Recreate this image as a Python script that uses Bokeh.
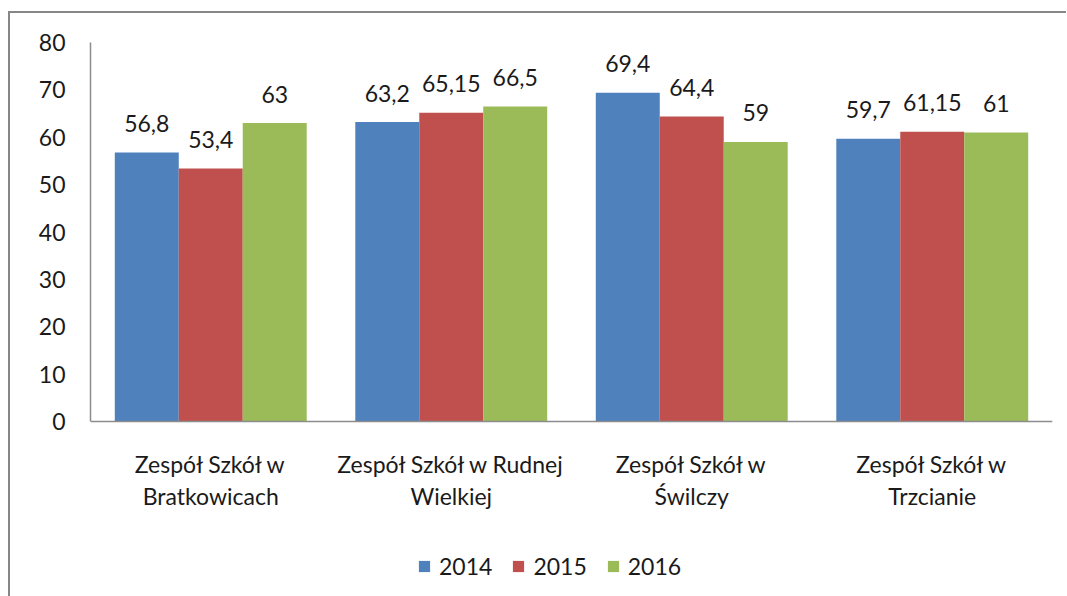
from bokeh.plotting import figure
from bokeh.models import ColumnDataSource, FactorRange, Legend, LegendItem, FixedTicker
from bokeh.transform import dodge
from bokeh.embed import file_html
from bokeh.resources import INLINE
from bokeh.core.properties import value

schools = ["Zespół Szkół w\nBratkowicach", "Zespół Szkół w Rudnej\nWielkiej",
           "Zespół Szkół w\nŚwilczy", "Zespół Szkół w\nTrzcianie"]
years = ["2014", "2015", "2016"]
v2014 = [56.8, 63.2, 69.4, 59.7]
v2015 = [53.4, 65.15, 64.4, 61.15]
v2016 = [63, 66.5, 59, 61]
colors = ["#4F81BD", "#C0504D", "#9BBB59"]
y_ticks = [0, 10, 20, 30, 40, 50, 60, 70, 80]

FONT = "Lato"
FS = "23px"

# frame: 0..80 occupies 379 px; extra 190 px below zero hold the category labels and legend
PX_PER_UNIT = 379 / 80
Y_MIN = -190 / PX_PER_UNIT


def fmt(v):
    return f"{v:g}".replace(".", ",")


data = {"school": schools}
for y, vals in zip(years, [v2014, v2015, v2016]):
    data["v" + y] = vals
    data["l" + y] = [fmt(v) for v in vals]
src = ColumnDataSource(data)

p = figure(x_range=FactorRange(*schools), y_range=(Y_MIN, 80),
           frame_width=962, frame_height=569, output_backend="svg", toolbar_location=None,
           min_border_left=80, min_border_right=14, min_border_top=29, min_border_bottom=0)
p.styles = {"margin-top": "11px", "margin-left": "8px",
            "border-left": "2px solid #878787", "border-top": "2px solid #878787"}
p.outline_line_color = None
p.xgrid.grid_line_color = None
p.ygrid.grid_line_color = None
p.background_fill_color = "white"
p.border_fill_color = "white"

bw = 0.266
offsets = [-bw, 0, bw]
items = []
for y, c, off in zip(years, colors, offsets):
    r = p.vbar(x=dodge("school", off, range=p.x_range), top="v" + y, bottom=0, width=bw,
               source=src, fill_color=c, line_color=None)
    p.text(x=dodge("school", off, range=p.x_range), y="v" + y, text="l" + y, source=src,
           text_align="center", text_baseline="alphabetic", y_offset=-29,
           text_font=value(FONT), text_font_size=FS, text_color="#1a1a1a")
    items.append(LegendItem(label=y, renderers=[r]))

legend = Legend(items=items, orientation="horizontal", location=(327, 31),
                glyph_width=14, glyph_height=14, label_standoff=8, spacing=19,
                padding=0, margin=0, border_line_color=None, background_fill_alpha=0,
                label_text_font=FONT, label_text_font_size=FS, label_text_color="#1a1a1a")
p.add_layout(legend, "center")

p.yaxis.ticker = FixedTicker(ticks=y_ticks)
p.yaxis.bounds = (0, 80)
p.xaxis.fixed_location = 0
for ax in (p.xaxis, p.yaxis):
    ax.axis_line_color = "#8c8c8c"
    ax.axis_line_width = 1.5
    ax.major_tick_line_color = None
    ax.minor_tick_line_color = None
    ax.major_label_text_font = FONT
    ax.major_label_text_font_size = FS
    ax.major_label_text_color = "#1a1a1a"
p.yaxis.major_label_standoff = 19
p.xaxis.major_label_standoff = 22
p.xaxis.major_label_text_line_height = 1.17

open("out.html", "w").write(file_html(p, INLINE))
